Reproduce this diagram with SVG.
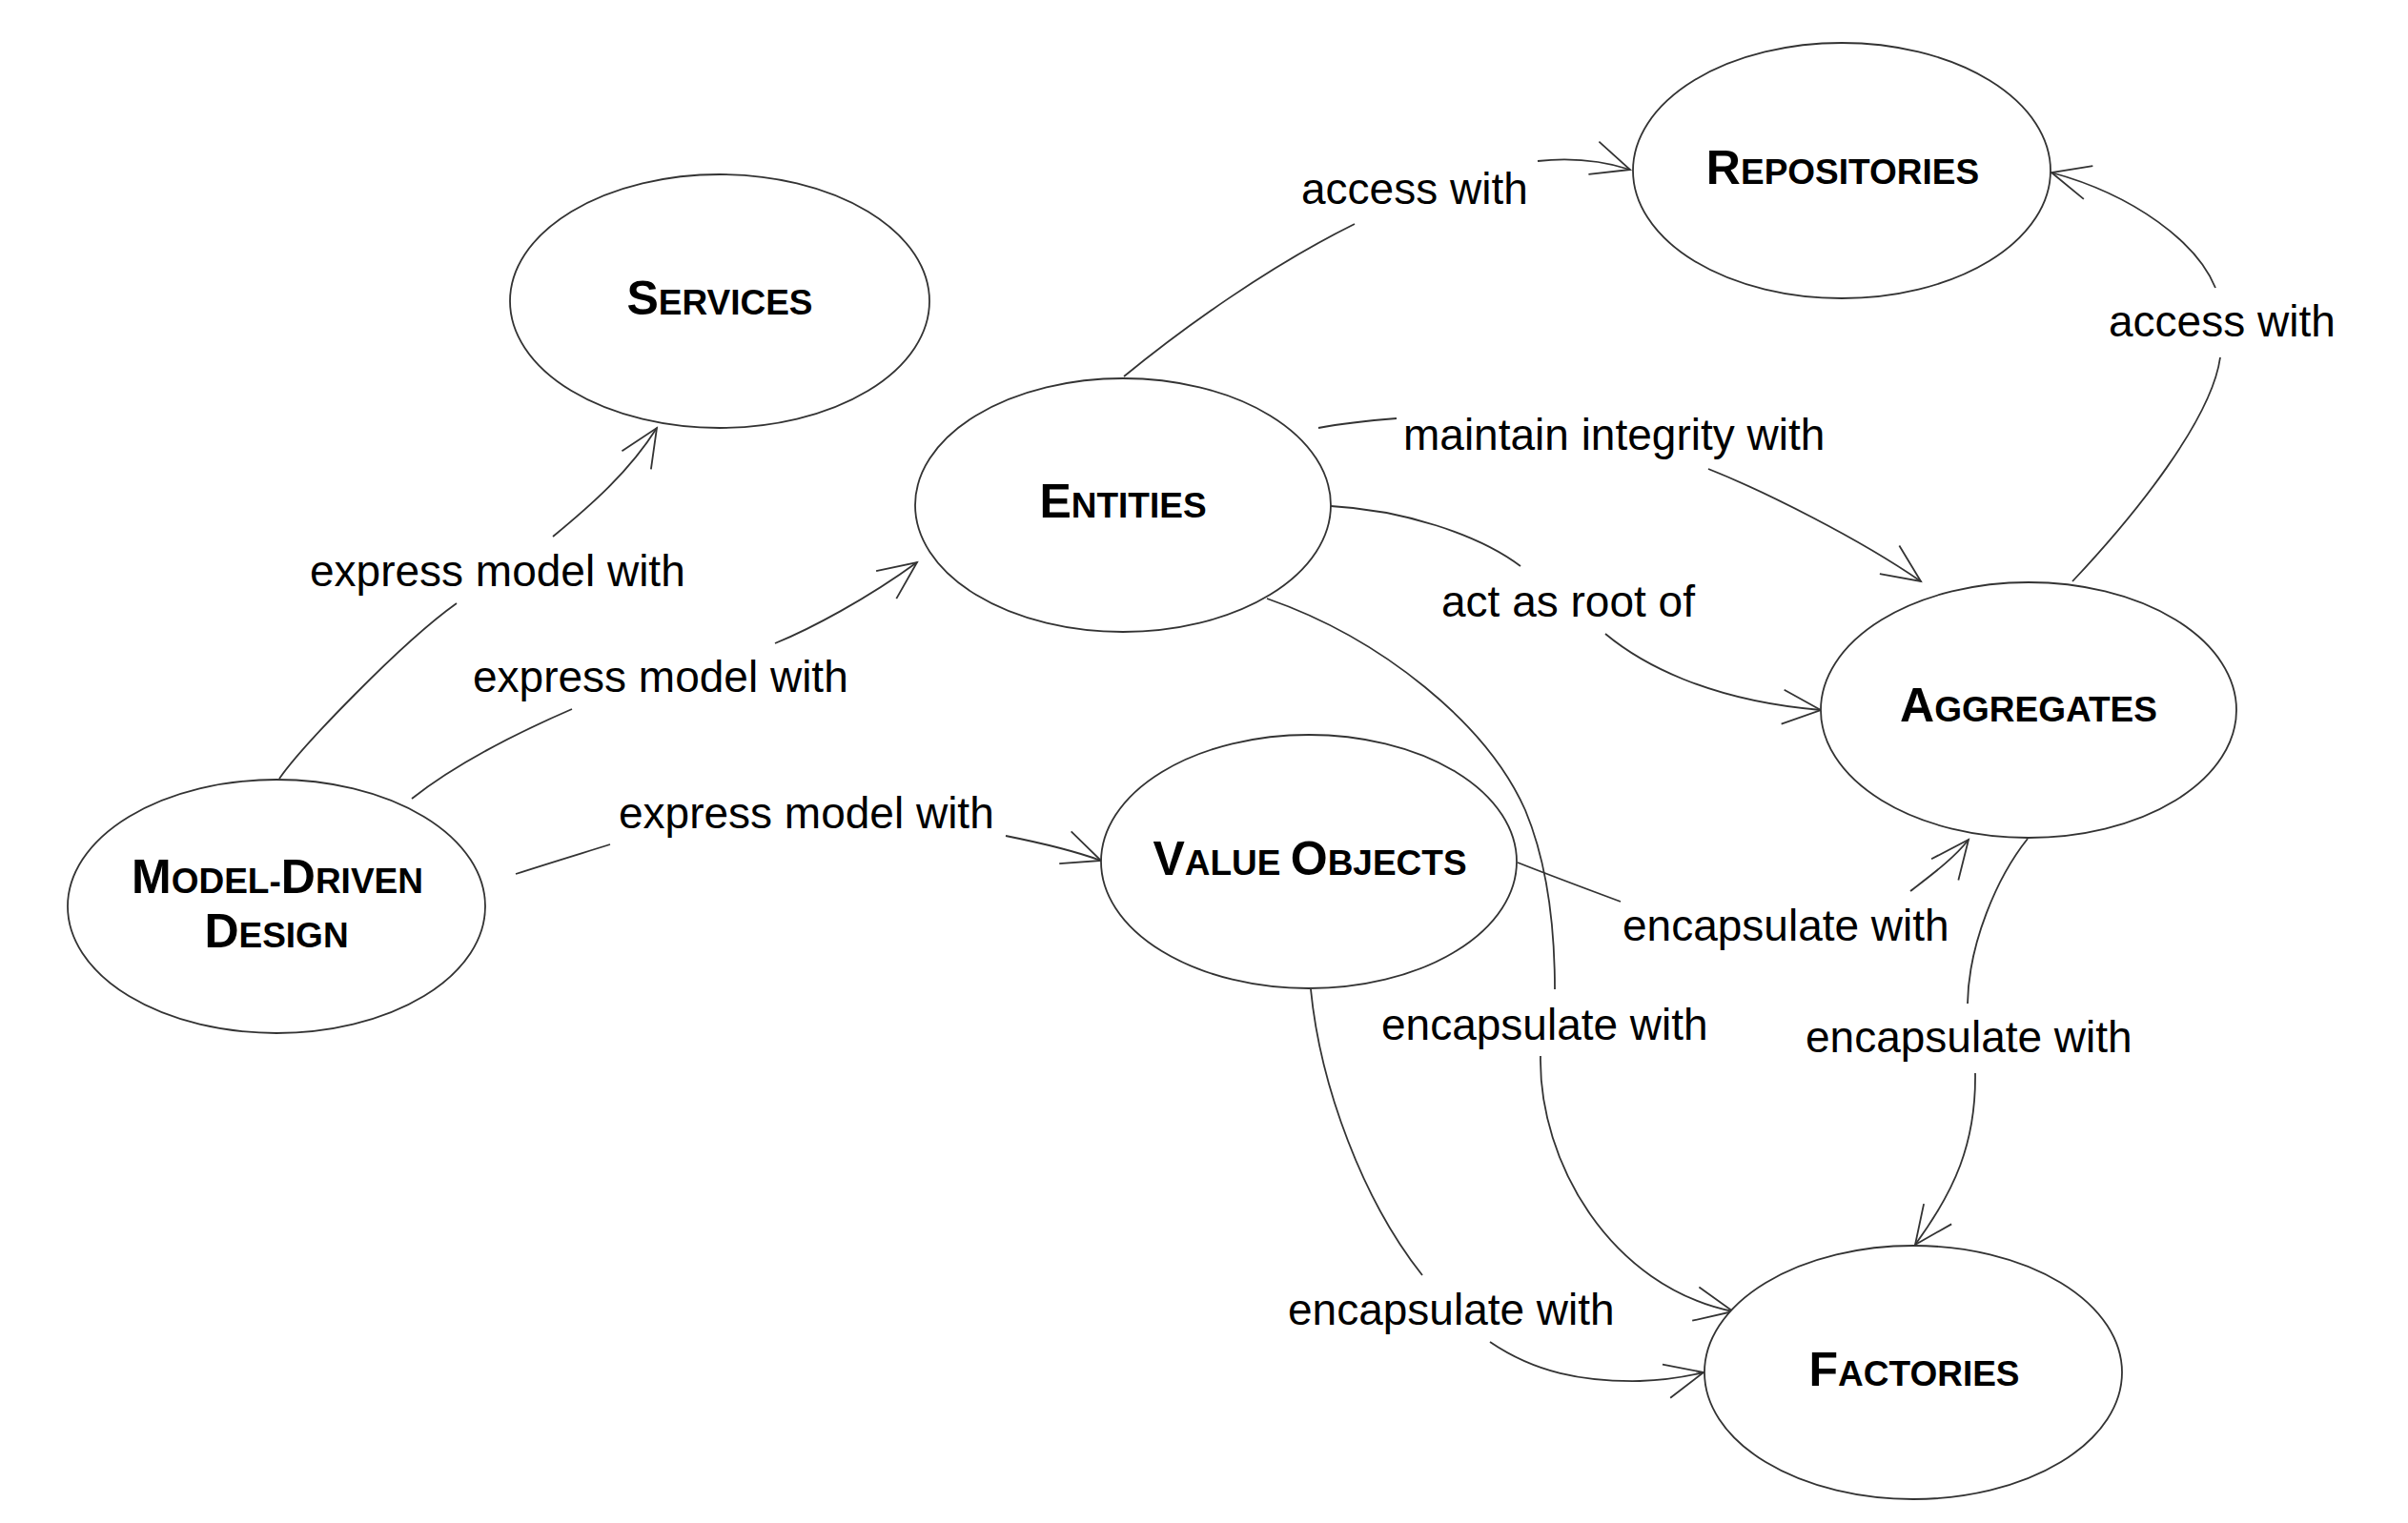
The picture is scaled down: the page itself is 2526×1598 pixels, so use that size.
<svg xmlns="http://www.w3.org/2000/svg" width="2526" height="1598" viewBox="0 0 2526 1598">
<style>
.node ellipse{fill:#fff;stroke:#333;stroke-width:1.8}
.nl{font-family:"Liberation Sans",Arial,sans-serif;font-weight:bold;font-size:50px;fill:#000;text-anchor:middle}
.sc{font-size:37px}
.lbl{font-family:"Liberation Sans",Arial,sans-serif;font-size:46px;fill:#000}
.edges path{fill:none;stroke:#333;stroke-width:1.8}
</style>
<defs>
<marker id="arr" markerWidth="60" markerHeight="60" refX="0" refY="0" orient="auto" markerUnits="userSpaceOnUse" overflow="visible">
<path d="M -40 -18 L 0 0 L -40 18" fill="none" stroke="#333" stroke-width="1.8"/>
</marker>
</defs>
<rect width="2526" height="1598" fill="#fff"/>
<g class="edges" id="connectors">
<path d="M 293 817 C 315 785, 420 675, 479 633"/>
<path d="M 580 563 C 620 530, 660 495, 689 449" marker-end="url(#arr)"/>
<path d="M 432 838 C 480 800, 540 770, 600 744"/>
<path d="M 813 675 C 850 660, 910 628, 962 590" marker-end="url(#arr)"/>
<path d="M 541 917 C 575 906, 608 896, 640 886"/>
<path d="M 1055 877 C 1090 884, 1125 892, 1155 903" marker-end="url(#arr)"/>
<path d="M 1179 395 C 1240 345, 1330 280, 1421 235"/>
<path d="M 1613 169 C 1650 165, 1685 170, 1710 178" marker-end="url(#arr)"/>
<path d="M 2174 610 C 2240 540, 2320 440, 2329 375"/>
<path d="M 2324 302 C 2305 255, 2240 205, 2152 181" marker-end="url(#arr)"/>
<path d="M 1383 449 C 1410 444, 1440 441, 1465 439"/>
<path d="M 1792 492 C 1850 515, 1950 565, 2015 610" marker-end="url(#arr)"/>
<path d="M 1396 531 C 1470 535, 1550 560, 1595 594"/>
<path d="M 1684 665 C 1720 695, 1790 735, 1910 745" marker-end="url(#arr)"/>
<path d="M 1329 628 C 1450 670, 1560 760, 1600 850 C 1625 910, 1631 980, 1631 1038"/>
<path d="M 1616 1108 C 1614 1220, 1690 1350, 1818 1376" marker-end="url(#arr)"/>
<path d="M 1592 905 C 1630 920, 1665 933, 1700 946"/>
<path d="M 2004 935 C 2030 915, 2050 900, 2065 881" marker-end="url(#arr)"/>
<path d="M 2127 880 C 2095 920, 2065 990, 2064 1053"/>
<path d="M 2072 1126 C 2073 1200, 2050 1250, 2009 1306" marker-end="url(#arr)"/>
<path d="M 1375 1038 C 1385 1140, 1430 1260, 1492 1338"/>
<path d="M 1563 1408 C 1610 1440, 1660 1450, 1720 1449 C 1750 1448, 1770 1444, 1787 1440" marker-end="url(#arr)"/>
</g>
<g id="labels" class="lbl">
<text x="325" y="615">express model with</text>
<text x="496" y="726">express model with</text>
<text x="649" y="869">express model with</text>
<text x="1365" y="214">access with</text>
<text x="2212" y="353">access with</text>
<text x="1472" y="472">maintain integrity with</text>
<text x="1512" y="647">act as root of</text>
<text x="1449" y="1091">encapsulate with</text>
<text x="1702" y="987">encapsulate with</text>
<text x="1894" y="1104">encapsulate with</text>
<text x="1351" y="1390">encapsulate with</text>
</g>
<g id="services" class="node">
<ellipse cx="755" cy="316" rx="220" ry="133"/>
<text class="nl" x="755" y="330">S<tspan class="sc">ERVICES</tspan></text>
</g>
<g id="entities" class="node">
<ellipse cx="1178" cy="530" rx="218" ry="133"/>
<text class="nl" x="1178" y="543">E<tspan class="sc">NTITIES</tspan></text>
</g>
<g id="repositories" class="node">
<ellipse cx="1932" cy="179" rx="219" ry="134"/>
<text class="nl" x="1933" y="193">R<tspan class="sc">EPOSITORIES</tspan></text>
</g>
<g id="aggregates" class="node">
<ellipse cx="2128" cy="745" rx="218" ry="134"/>
<text class="nl" x="2128" y="757">A<tspan class="sc">GGREGATES</tspan></text>
</g>
<g id="model-driven-design" class="node">
<ellipse cx="290" cy="951" rx="219" ry="133"/>
<text class="nl" x="291" y="937">M<tspan class="sc">ODEL-</tspan>D<tspan class="sc">RIVEN</tspan></text>
<text class="nl" x="290" y="994">D<tspan class="sc">ESIGN</tspan></text>
</g>
<g id="value-objects" class="node">
<ellipse cx="1373" cy="904" rx="218" ry="133"/>
<text class="nl" x="1374" y="918">V<tspan class="sc">ALUE </tspan>O<tspan class="sc">BJECTS</tspan></text>
</g>
<g id="factories" class="node">
<ellipse cx="2007" cy="1440" rx="219" ry="133"/>
<text class="nl" x="2008" y="1454">F<tspan class="sc">ACTORIES</tspan></text>
</g>
</svg>
